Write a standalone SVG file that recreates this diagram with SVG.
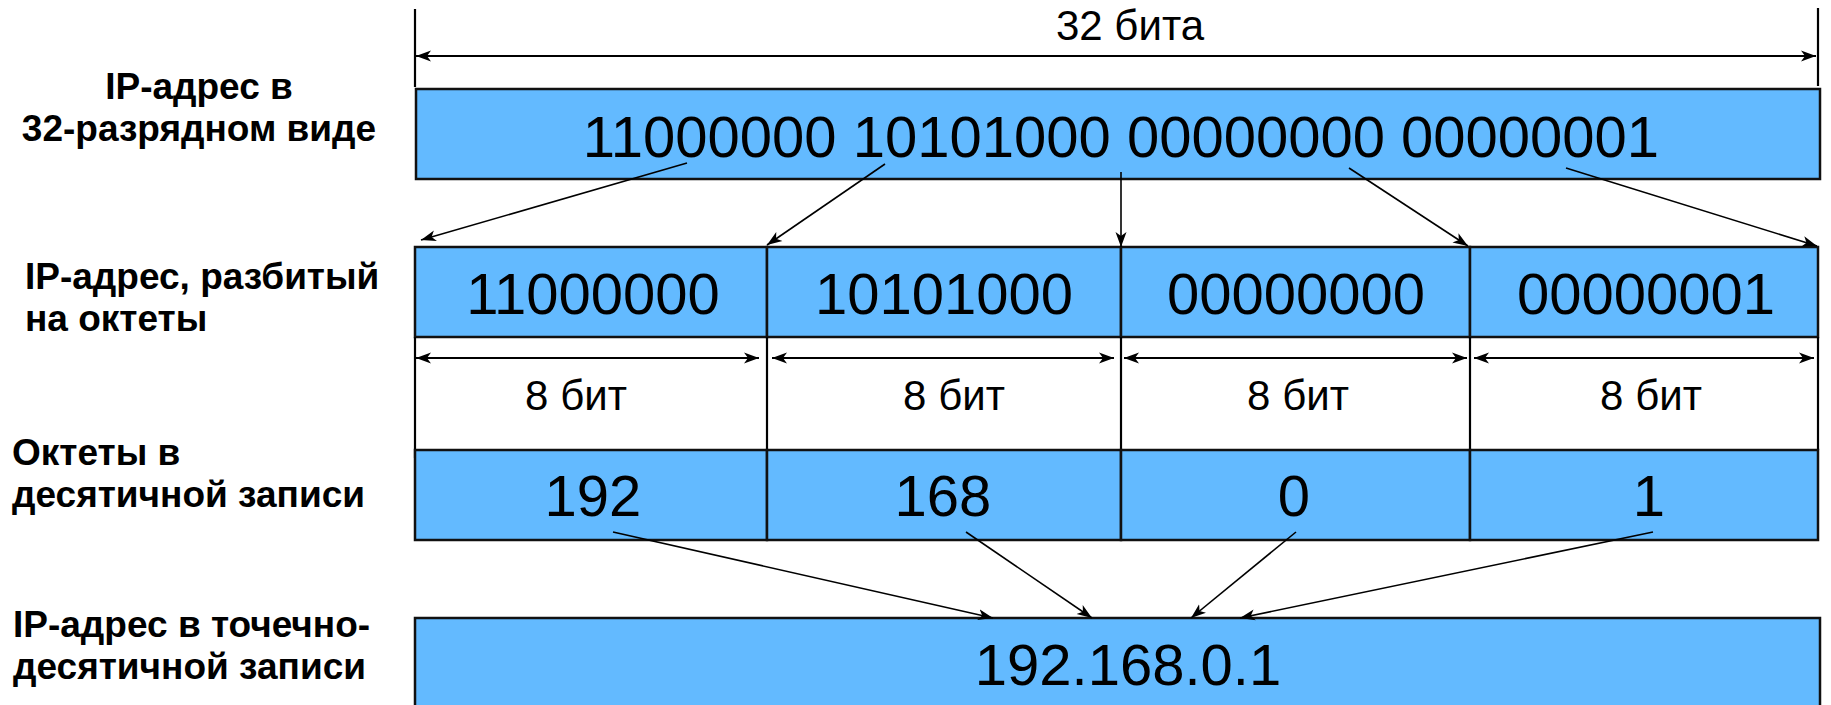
<svg xmlns="http://www.w3.org/2000/svg" width="1831" height="705" viewBox="0 0 1831 705">
<style>
.cell{fill:#63BAFF;stroke:#111;stroke-width:2.5}
.big{font-family:"Liberation Sans",Arial,sans-serif;font-size:58px;fill:#000;text-anchor:middle}
.mid{font-family:"Liberation Sans",Arial,sans-serif;font-size:42px;fill:#000;text-anchor:middle}
.lbl{font-family:"Liberation Sans",Arial,sans-serif;font-size:37px;font-weight:bold;fill:#000}
.ln{stroke:#000;stroke-width:1.6;fill:none}
.dim{stroke:#000;stroke-width:2.2;fill:none}
.sep{stroke:#000;stroke-width:2.2}
</style>
<defs>
<marker id="ah" markerUnits="userSpaceOnUse" markerWidth="16" markerHeight="12" refX="15" refY="6" orient="auto-start-reverse" viewBox="0 0 16 12">
<path d="M0,0.5 L15,6 L0,11.5 L4,6 z" fill="#000"/>
</marker>
</defs>

<g id="labels">
<text class="lbl" x="199" y="99" text-anchor="middle">IP-адрес в</text>
<text class="lbl" x="199" y="141" text-anchor="middle">32-разрядном виде</text>
<text class="lbl" x="25" y="289">IP-адрес, разбитый</text>
<text class="lbl" x="25" y="331">на октеты</text>
<text class="lbl" x="12" y="465">Октеты в</text>
<text class="lbl" x="12" y="507">десятичной записи</text>
<text class="lbl" x="13" y="637">IP-адрес в точечно-</text>
<text class="lbl" x="13" y="679">десятичной записи</text>
</g>

<g id="dim32">
<line class="sep" x1="415" y1="9" x2="415" y2="87"/>
<line class="sep" x1="1818" y1="8" x2="1818" y2="86"/>
<line class="dim" x1="416" y1="56" x2="1816" y2="56" marker-start="url(#ah)" marker-end="url(#ah)"/>
<text class="mid" x="1130" y="40" font-size="40">32 бита</text>
</g>

<g id="bin32">
<rect class="cell" x="416" y="89" width="1404" height="90"/>
<text class="big" x="1121" y="157">11000000 10101000 00000000 00000001</text>
</g>

<g id="octets">
<rect class="cell" x="415" y="247" width="352" height="90"/>
<rect class="cell" x="767" y="247" width="354" height="90"/>
<rect class="cell" x="1121" y="247" width="349" height="90"/>
<rect class="cell" x="1470" y="247" width="348" height="90"/>
<text class="big" x="593" y="314">11000000</text>
<text class="big" x="944" y="314">10101000</text>
<text class="big" x="1296" y="314">00000000</text>
<text class="big" x="1646" y="314">00000001</text>
</g>

<g id="bits">
<line class="sep" x1="415" y1="337" x2="415" y2="458"/>
<line class="sep" x1="767" y1="337" x2="767" y2="450"/>
<line class="sep" x1="1121" y1="337" x2="1121" y2="450"/>
<line class="sep" x1="1470" y1="337" x2="1470" y2="450"/>
<line class="sep" x1="1818" y1="337" x2="1818" y2="450"/>
<line class="dim" x1="416" y1="358" x2="759" y2="358" marker-start="url(#ah)" marker-end="url(#ah)"/>
<line class="dim" x1="772" y1="358" x2="1114" y2="358" marker-start="url(#ah)" marker-end="url(#ah)"/>
<line class="dim" x1="1124" y1="358" x2="1467" y2="358" marker-start="url(#ah)" marker-end="url(#ah)"/>
<line class="dim" x1="1474" y1="358" x2="1814" y2="358" marker-start="url(#ah)" marker-end="url(#ah)"/>
<text class="mid" x="576" y="410">8 бит</text>
<text class="mid" x="954" y="410">8 бит</text>
<text class="mid" x="1298" y="410">8 бит</text>
<text class="mid" x="1651" y="410">8 бит</text>
</g>

<g id="decimal">
<rect class="cell" x="415" y="450" width="352" height="90"/>
<rect class="cell" x="767" y="450" width="354" height="90"/>
<rect class="cell" x="1121" y="450" width="349" height="90"/>
<rect class="cell" x="1470" y="450" width="348" height="90"/>
<text class="big" x="593" y="516">192</text>
<text class="big" x="943" y="516">168</text>
<text class="big" x="1294" y="516">0</text>
<text class="big" x="1649" y="516">1</text>
</g>

<g id="dotted">
<rect class="cell" x="415" y="618" width="1405" height="100"/>
<text class="big" x="1128" y="685" font-size="60">192.168.0.1</text>
</g>

<g id="connectors">
<line class="ln" x1="687" y1="163" x2="421" y2="240" marker-end="url(#ah)"/>
<line class="ln" x1="885" y1="164" x2="767" y2="245" marker-end="url(#ah)"/>
<line class="ln" x1="1121" y1="172" x2="1121" y2="247" marker-end="url(#ah)"/>
<line class="ln" x1="1349" y1="168" x2="1468" y2="246" marker-end="url(#ah)"/>
<line class="ln" x1="1566" y1="168" x2="1817" y2="246" marker-end="url(#ah)"/>
<line class="ln" x1="613" y1="532" x2="993" y2="618" marker-end="url(#ah)"/>
<line class="ln" x1="966" y1="532" x2="1092" y2="618" marker-end="url(#ah)"/>
<line class="ln" x1="1296" y1="532" x2="1191" y2="618" marker-end="url(#ah)"/>
<line class="ln" x1="1653" y1="532" x2="1240" y2="618" marker-end="url(#ah)"/>
</g>
</svg>
